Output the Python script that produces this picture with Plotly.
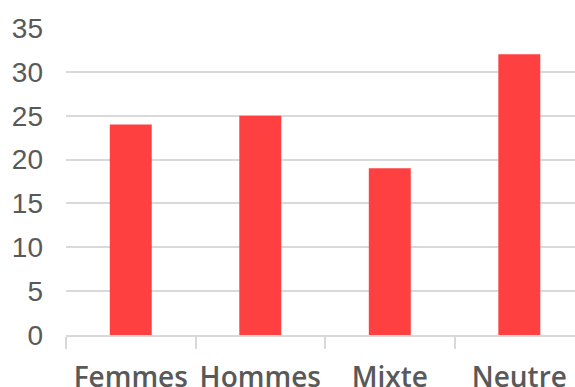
import plotly.graph_objects as go

categories = ["Femmes", "Hommes", "Mixte", "Neutre"]
values = [24, 25, 19, 32]
y_ticks = [0, 5, 10, 15, 20, 25, 30, 35]

fig = go.Figure(
    go.Bar(
        x=categories,
        y=values,
        marker=dict(color="#FF4040", line=dict(width=0)),
        width=0.324,
    )
)

fig.update_layout(
    width=575,
    height=387,
    margin=dict(l=66, r=0, t=28, b=52, autoexpand=False),
    paper_bgcolor="white",
    plot_bgcolor="white",
    showlegend=False,
)

fig.update_xaxes(
    type="category",
    range=[-0.5, 3.43],
    tickson="boundaries",
    ticks="outside",
    ticklen=12,
    tickwidth=2,
    tickcolor="#D9D9D9",
    showline=True,
    linecolor="#D9D9D9",
    linewidth=2,
    showgrid=False,
    tickangle=0,
    automargin=False,
    tickfont=dict(family="Open Sans", size=28, color="#595959", weight=600),
    ticklabelstandoff=16,
)

fig.update_yaxes(
    range=[0, 35],
    tickvals=y_ticks,
    showgrid=True,
    gridcolor="#D9D9D9",
    gridwidth=2,
    zeroline=False,
    showline=False,
    ticks="",
    automargin=False,
    tickfont=dict(family="Liberation Sans", size=28, color="#595959"),
    ticklabelstandoff=22,
)

fig.write_html("out.html")
